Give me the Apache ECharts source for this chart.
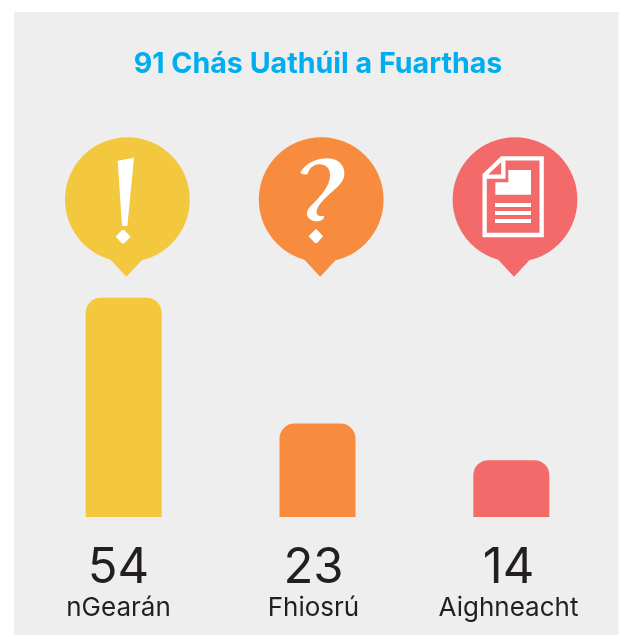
<!DOCTYPE html>
<html><head><meta charset="utf-8">
<style>html,body{margin:0;padding:0;background:#fff}#c{width:621px;height:635px}</style>
<script src="https://cdn.jsdelivr.net/npm/echarts@6/dist/echarts.min.js"></script></head>
<body><div id="c"></div>
<script>
const titleText = '91 Chás Uathúil a Fuarthas';
const categories = ['nGearán', 'Fhiosrú', 'Aighneacht'];
const values = [54, 23, 14];
const colors = ['#F3C83E', '#F78C3F', '#F26B6A'];

const chart = echarts.init(document.getElementById('c'), null, {renderer: 'canvas'});
const white = {fill: '#fff'};
const pinAt = (cx, color) => [
  {type: 'circle', shape: {cx: cx, cy: 199.6, r: 62.4}, style: {fill: color}},
  {type: 'polygon', shape: {points: [[cx - 17.5, 259], [cx - 1, 276.7], [cx + 15.5, 259]]}, style: {fill: color}}
];
// flatten traced outlines (3x zoom units relative to an origin) into polygon points
function outline(ox, oy, start, curves) {
  const pts = [start];
  let p = start;
  curves.forEach(c => {
    if (c.length === 2) { pts.push(c); p = c; return; }
    for (let i = 1; i <= 12; i++) {
      const t = i / 12, u = 1 - t;
      pts.push([
        u*u*u*p[0] + 3*u*u*t*c[0] + 3*u*t*t*c[2] + t*t*t*c[4],
        u*u*u*p[1] + 3*u*u*t*c[1] + 3*u*t*t*c[3] + t*t*t*c[5]
      ]);
    }
    p = [c[4], c[5]];
  });
  return pts.map(q => [ox + q[0] / 3, oy + q[1] / 3]);
}
const poly = (points, style) => ({type: 'polygon', shape: {points: points}, style: style});
const scaled = (ox, oy, pts) => pts.map(q => [ox + q[0] / 3, oy + q[1] / 3]);

const bang = [
  poly(scaled(40, 120, [[233,122],[282,113],[262,318],[246,318]]), white),
  poly(scaled(40, 120, [[249,329],[253,331],[272,350],[253,369],[249,371],[245,369],[227,350],[245,331]]), white)
];
const question = [
  poly(outline(285, 150, [46,68], [
    [60,40,95,25,125,25],[160,25,178,45,178,70],[178,100,150,115,125,140],[105,160,93,175,95,190],
    [97,198,108,200,118,197],[115,207],[100,218,80,215,70,203],[62,192,65,180,80,165],
    [105,140,135,110,135,75],[135,52,120,42,100,43],[85,44,72,55,68,72],[62,74,52,74,46,68]
  ]), white),
  poly(scaled(285, 150, [[93,238],[97,240],[114,259],[97,278],[93,280],[89,278],[71,259],[89,240]]), white)
];
const stroke = {fill: 'none', stroke: '#fff', lineWidth: 4.3};
const doc = [
  poly(scaled(430, 120, [[164,165],[216,115],[335,115],[335,345],[164,345]]), stroke),
  {type: 'polyline', shape: {points: scaled(430, 120, [[160,170],[220,170],[220,112]])}, style: {fill: 'none', stroke: '#fff', lineWidth: 4.3}},
  poly(scaled(430, 120, [[235,150],[303,150],[303,224],[196,224],[196,187],[235,187]]), white),
  poly(scaled(430, 120, [[195,249],[303,249],[303,261],[195,261]]), white),
  poly(scaled(430, 120, [[195,273],[303,273],[303,285],[195,285]]), white),
  poly(scaled(430, 120, [[195,297],[303,297],[303,309],[195,309]]), white)
];

chart.setOption({
  animation: false,
  backgroundColor: '#ffffff',
  title: {
    text: titleText, left: 313, top: 45, textAlign: 'center',
    textStyle: {fontFamily: 'Inter', fontWeight: 700, fontSize: 28.6, color: '#00AEEF'}
  },
  graphic: [
    {type: 'rect', z: -10, shape: {x: 14, y: 12, width: 604.5, height: 623}, style: {fill: '#EEEEEE'}}
  ].concat(pinAt(127.4, colors[0]), pinAt(321.2, colors[1]), pinAt(515, colors[2]), bang, question, doc),
  grid: [
    {left: 26.75, width: 581.5, top: 273.4, height: 243.6},
    {left: 21, width: 585, top: 273.4, height: 243.6}
  ],
  xAxis: [
    {type: 'category', gridIndex: 0, data: categories, axisLine: {show: false}, axisTick: {show: false}, axisLabel: {show: false}},
    {type: 'category', gridIndex: 1, data: categories.map((c, i) => values[i] + '|' + c),
     axisLine: {show: false}, axisTick: {show: false},
     axisLabel: {
       margin: 26, interval: 0, hideOverlap: false,
       formatter: s => { const [v, n] = s.split('|'); return '{v|' + v + '}\n{n|' + n + '}'; },
       rich: {
         v: {fontFamily: 'Inter', fontSize: 49, lineHeight: 50, fontWeight: 400, color: '#231F20'},
         n: {fontFamily: 'Inter', fontSize: 26, lineHeight: 30, fontWeight: 400, color: '#231F20'}
       }
     }}
  ],
  yAxis: [
    {type: 'value', gridIndex: 0, min: 0, max: 60, interval: 20, show: false},
    {type: 'value', gridIndex: 1, min: 0, max: 60, interval: 20, show: false}
  ],
  series: [{
    type: 'bar', xAxisIndex: 0, yAxisIndex: 0, barWidth: 76,
    data: values.map((v, i) => ({value: v, itemStyle: {color: colors[i], borderRadius: [15, 15, 0, 0]}}))
  }]
});
</script></body></html>
